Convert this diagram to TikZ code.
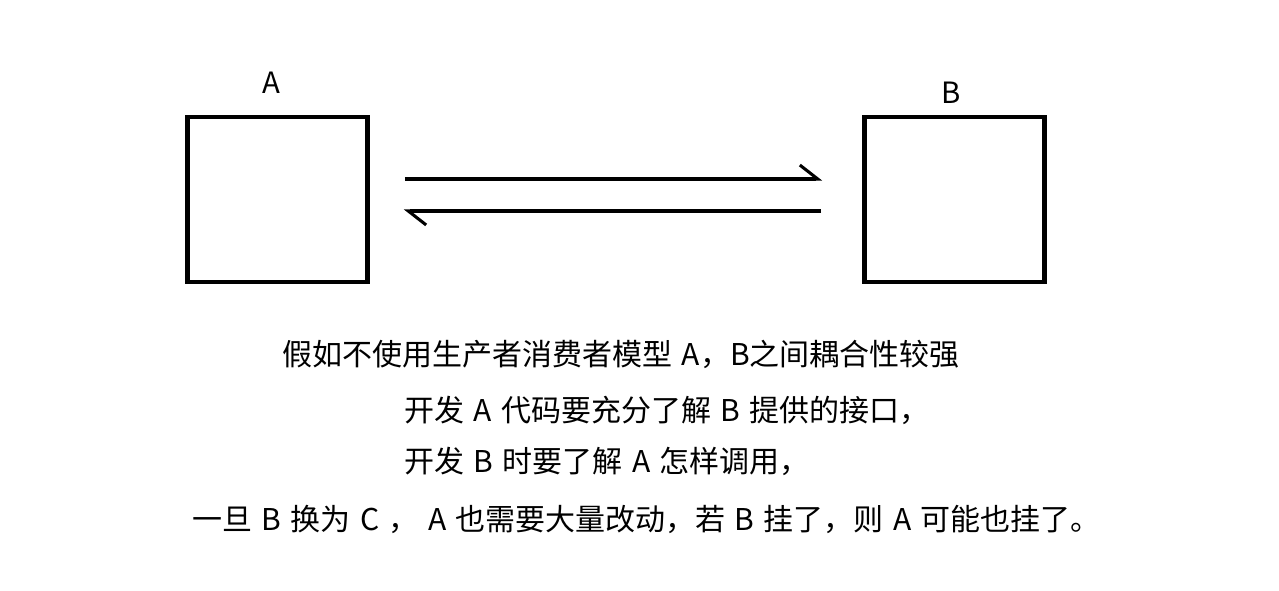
\documentclass[tikz,border=0pt]{standalone}
\usepackage{fontspec}
\setmainfont{Noto Sans CJK SC}
\usepackage{tikz}
\usetikzlibrary{calc, arrows.meta}
\tikzstyle{bigbox}=[
    draw=black,          % black border
    rectangle,           % plain square box
    line width=3.5pt,
    inner sep=0pt,
    minimum width=135pt,
    minimum height=123.75pt]
\tikzstyle{caption}=[
    anchor=west,
    inner sep=0pt,
    font=\fontsize{22.5pt}{27pt}\selectfont,
    execute at begin node={\spaceskip=7pt\relax}]
\tikzstyle{boxlabel}=[
    inner sep=0pt,
    font=\fontsize{22pt}{26pt}\selectfont]

\begin{document}
\begin{tikzpicture}[x=0.75pt, y=-0.75pt,
    -{Straight Barb[harpoon, angle=76:17pt]}, line width=2.3pt]
        \useasboundingbox (0,0) rectangle (1279,590);
        % Draw the two boxes
        \node[bigbox] (a) at (277.5,199.5) {};
        \node[bigbox, right of=a, node distance=507.75pt] (b) {};
        \node[boxlabel] (la) at (271,83) {A};
        \node[boxlabel] (lb) at (951,93) {B};

        % Ends of the two arrows
        \coordinate (p1) at ($(a.east)+(35,-20.5)$);
        \coordinate (q1) at ($(b.west)+(-40,-20.5)$);
        \coordinate (p2) at ($(b.west)+(-41,11.5)$);
        \coordinate (q2) at ($(a.east)+(34,11.5)$);

        % Connect the boxes
        \draw (p1) -- (q1);
        \draw (p2) -- (q2);

        % Text below
        \node[caption] (t1) at (281,354) {假如不使用生产者消费者模型 A，B之间耦合性较强};
        \node[caption] (t2) at (403,410) {开发 A 代码要充分了解 B 提供的接口，};
        \node[caption] (t3) at (403,461) {开发 B 时要了解 A 怎样调用，};
        \node[caption] (t4) at (191,519) {一旦 B 换为 C ， A 也需要大量改动，若 B 挂了，则 A 可能也挂了。};
\end{tikzpicture}
\end{document}
